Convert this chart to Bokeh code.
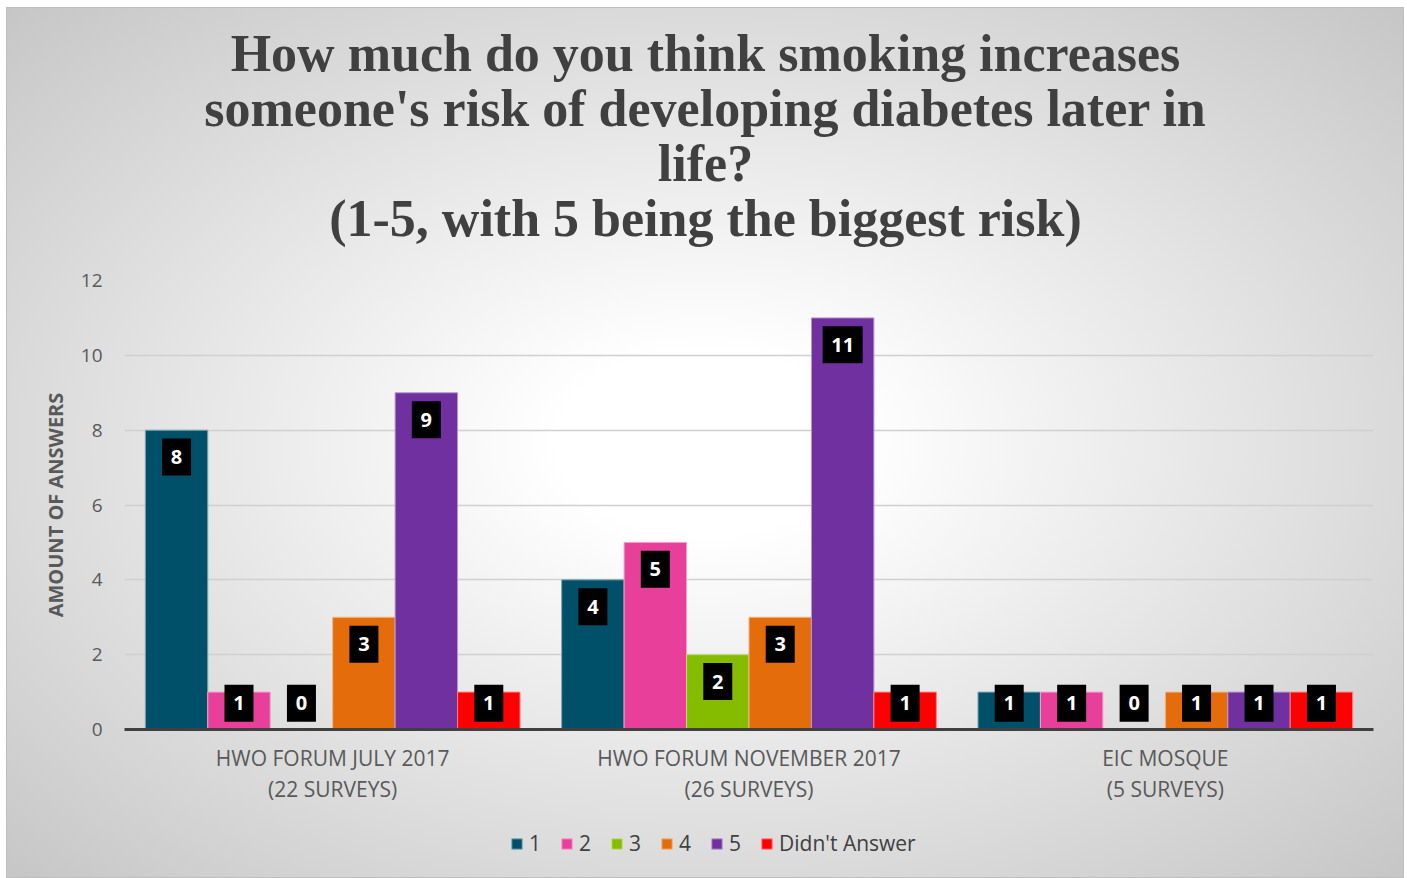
from bokeh.plotting import figure
from bokeh.layouts import column
from bokeh.models import (ColumnDataSource, FactorRange, Range1d, Legend, LegendItem, FixedTicker)
from bokeh.core.properties import value
from bokeh.transform import dodge
from bokeh.embed import file_html
from bokeh.resources import INLINE

title_lines = ["How much do you think smoking increases",
               "someone's risk of developing diabetes later in",
               "life?",
               "(1-5, with 5 being the biggest risk)"]
groups = ["HWO FORUM JULY 2017\n(22 SURVEYS)",
          "HWO FORUM NOVEMBER 2017\n(26 SURVEYS)",
          "EIC MOSQUE\n(5 SURVEYS)"]
series = ["1", "2", "3", "4", "5", "Didn't Answer"]
vals_1 = [8, 4, 1]
vals_2 = [1, 5, 1]
vals_3 = [0, 2, 0]
vals_4 = [3, 3, 1]
vals_5 = [9, 11, 1]
vals_na = [1, 1, 1]
y_ticks = [0, 2, 4, 6, 8, 10, 12]

all_vals = [vals_1, vals_2, vals_3, vals_4, vals_5, vals_na]
colors = ["#005069", "#E8409A", "#86BC00", "#E46C0A", "#7030A0", "#FF0000"]
edge = ["#7fa8b4", "#f39fcc", "#c2dd80", "#f1b584", "#b797cf", "#ff8080"]

W = 1398
H_T, H_M, H_L = 260, 543, 68
BL, BR = 118, 31   # side borders shared by all three strips


def bare(fig):
    fig.border_fill_alpha = 0
    fig.background_fill_alpha = 0
    fig.outline_line_color = None
    return fig


# ---- title block (ranges in local pixels: x from left, y from top) ----
pt = bare(figure(width=W, height=H_T, title=None,
                 x_range=Range1d(BL, W - BR), y_range=Range1d(H_T, 0),
                 x_axis_type=None, y_axis_type=None,
                 min_border_left=BL, min_border_right=BR, min_border_top=0, min_border_bottom=0,
                 toolbar_location=None, output_backend="svg"))
tsrc = ColumnDataSource(dict(x=[W / 2] * len(title_lines),
                             y=[46 + 55 * i for i in range(len(title_lines))],
                             t=title_lines))
pt.text(x="x", y="y", text="t", source=tsrc,
        text_align=value("center"), text_baseline=value("alphabetic"),
        text_font=value("Liberation Serif"), text_font_style=value("bold"),
        text_font_size=value("52px"), text_color="#404040")

# ---- main chart ----
p = bare(figure(x_range=FactorRange(factors=groups, range_padding=0),
                y_range=Range1d(0, 12), title=None,
                width=W, height=H_M, output_backend="svg", toolbar_location=None,
                min_border_left=BL, min_border_right=BR, min_border_top=13, min_border_bottom=81))

n = len(series)
bw = 0.15
offsets = [(-(n - 1) / 2 + i) * bw for i in range(n)]
for i, s in enumerate(series):
    v = all_vals[i]
    lab_y = [max(x - 0.72, 0.70) for x in v]
    lab_w = [18 + 11 * len(str(x)) for x in v]
    src = ColumnDataSource(dict(g=groups, v=v, ly=lab_y, lw=lab_w, t=[str(x) for x in v]))
    p.vbar(x=dodge("g", offsets[i], range=p.x_range), top="v", width=bw, source=src,
           fill_color=colors[i], line_color=edge[i], line_width=1)
    p.rect(x=dodge("g", offsets[i], range=p.x_range), y="ly", width="lw", height=37,
           width_units="screen", height_units="screen", source=src,
           fill_color="black", line_color=None)
    p.text(x=dodge("g", offsets[i], range=p.x_range), y="ly", text="t", source=src,
           text_align=value("center"), text_baseline=value("middle"), text_color="white",
           text_font=value("Open Sans"), text_font_style=value("bold"),
           text_font_size=value("20px"))

p.yaxis.ticker = FixedTicker(ticks=y_ticks)
p.yaxis.axis_line_color = None
p.yaxis.major_tick_line_color = None
p.yaxis.minor_tick_line_color = None
p.yaxis.major_tick_out = 0
p.yaxis.major_label_text_font = "Open Sans"
p.yaxis.major_label_text_font_size = "19px"
p.yaxis.major_label_text_color = "#595959"
p.yaxis.major_label_standoff = 22
p.yaxis.axis_label = "AMOUNT OF ANSWERS"
p.yaxis.axis_label_text_font = "Open Sans"
p.yaxis.axis_label_text_font_style = "bold"
p.yaxis.axis_label_text_font_size = "20px"
p.yaxis.axis_label_text_color = "#595959"
p.yaxis.axis_label_standoff = 9

p.xaxis.axis_line_color = "#404040"
p.xaxis.axis_line_width = 3
p.xaxis.major_tick_line_color = None
p.xaxis.minor_tick_line_color = None
p.xaxis.major_tick_out = 0
p.xaxis.major_label_text_font = "Open Sans"
p.xaxis.major_label_text_font_size = "21px"
p.xaxis.major_label_text_color = "#595959"
p.xaxis.major_label_text_line_height = 1.13
p.xaxis.major_label_standoff = 14

p.xgrid.grid_line_color = None
p.ygrid.grid_line_color = "#d0d0d0"
p.ygrid.grid_line_width = 1.5

# ---- legend strip ----
pl = bare(figure(width=W, height=H_L, title=None, x_range=Range1d(0, 1), y_range=Range1d(0, 1),
                 x_axis_type=None, y_axis_type=None,
                 min_border_left=BL, min_border_right=BR, min_border_top=0, min_border_bottom=0,
                 toolbar_location=None, output_backend="svg"))
items = []
for i, s in enumerate(series):
    # swatch renderer: one row kept outside the visible ranges in both directions
    r = pl.vbar(x=[-5], top=[-2], bottom=[-3], width=0.1,
                fill_color=colors[i], line_color=edge[i], line_width=1)
    items.append(LegendItem(label=s, renderers=[r]))
legend = Legend(items=items, orientation="horizontal", location=(386, 21),
                glyph_width=13, glyph_height=13, label_standoff=6, spacing=19, label_width=0,
                label_text_font="Open Sans", label_text_font_size="21px",
                label_text_color="#404040", background_fill_alpha=0,
                border_line_color=None, margin=0, padding=0)
pl.add_layout(legend, "center")

layout = column(pt, p, pl, spacing=0,
                styles={"background": "radial-gradient(ellipse farthest-corner at 50% 50%, #ffffff 15%, #c6c6c6 100%)",
                        "box-shadow": "inset 0 0 0 1px #bdbdbd",
                        "margin-left": "6px", "margin-top": "7px"})

open("out.html", "w").write(file_html(layout, INLINE))
